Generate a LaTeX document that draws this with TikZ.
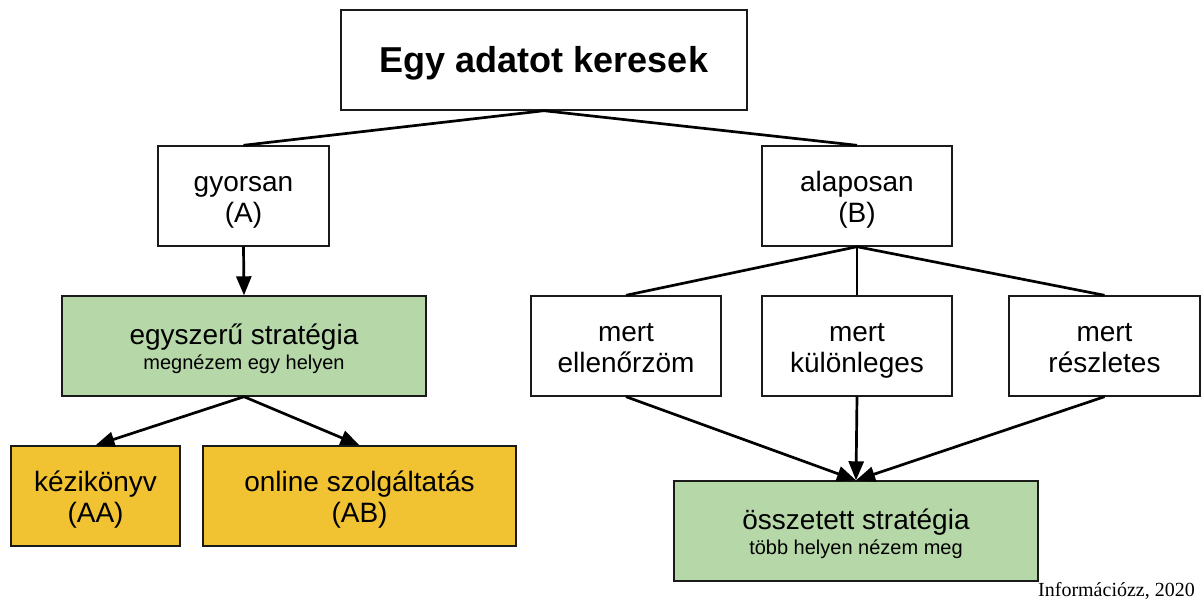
\documentclass[tikz,border=0pt]{standalone}
\usepackage{fontspec}
\setmainfont{Liberation Sans}
\newfontfamily\creditfont{Liberation Serif}
\usetikzlibrary{arrows.meta}

\definecolor{boxgreen}{HTML}{B6D7A8}
\definecolor{boxyellow}{HTML}{F1C232}
\definecolor{edge}{HTML}{1A1A1A}

% struts that fix the baselines of the two-line labels
\newcommand\Tstrut{\rule{0pt}{29pt}}
\newcommand\Gstrut{\rule{0pt}{30pt}}
\newcommand\Bstrut{\rule[-8pt]{0pt}{8pt}}

\begin{document}
\begin{tikzpicture}[x=1pt,y=-1pt,
  box/.style={draw=edge, line width=1.4pt, inner sep=0pt, align=center,
    text=black, minimum height=100pt, font=\fontsize{28}{31}\selectfont},
  plainbox/.style={box, fill=white},
  greenbox/.style={box, fill=boxgreen, font=\fontsize{28}{25}\selectfont},
  yellowbox/.style={box, fill=boxyellow},
  link/.style={line width=2.7pt, draw=black},
  arrow/.style={link, -{Triangle[length=19pt,width=15pt]}},
  subline/.style={}
]
\fill[white] (0,0) rectangle (1203,600);
\useasboundingbox (0,0) rectangle (1203,600);

% title
\node[plainbox, minimum width=406pt, text height=26pt, text depth=2pt,
  font=\bfseries\fontsize{36}{40}\selectfont] (top) at (544,60) {Egy adatot keresek};

% first level
\node[plainbox, minimum width=171pt] (gy) at (243.5,196) {\Tstrut gyorsan\\(A)\Bstrut};
\node[plainbox, minimum width=190pt] (al) at (857,196) {\Tstrut alaposan\\(B)\Bstrut};

% simple strategy branch
\node[greenbox, minimum width=364pt] (simple) at (244,346)
  {\Gstrut egyszerű stratégia\\{\fontsize{20}{25}\selectfont megnézem egy helyen}\Bstrut};
\node[yellowbox, minimum width=169pt] (aa) at (95.5,496) {\Tstrut kézikönyv\\(AA)\Bstrut};
\node[yellowbox, minimum width=313pt] (ab) at (359.5,496) {\Tstrut online szolgáltatás\\(AB)\Bstrut};

% thorough branch
\node[plainbox, minimum width=190pt] (m1) at (626,346) {\Tstrut mert\\ellenőrzöm\Bstrut};
\node[plainbox, minimum width=190pt] (m2) at (857,346) {\Tstrut mert\\különleges\Bstrut};
\node[plainbox, minimum width=191pt] (m3) at (1104.5,346) {\Tstrut mert\\részletes\Bstrut};
\node[greenbox, minimum width=364pt] (comp) at (856,531)
  {\Gstrut összetett stratégia\\{\fontsize{20}{25}\selectfont több helyen nézem meg}\Bstrut};

% connectors
\draw[link] (top.south) -- (gy.north);
\draw[link] (top.south) -- (al.north);
\draw[arrow] (gy.south) -- (simple.north);
\draw[arrow] (simple.south) -- (aa.north);
\draw[arrow] (simple.south) -- (ab.north);
\draw[link] (al.south) -- (m1.north);
\draw[link] (al.south) -- (m2.north);
\draw[link] (al.south) -- (m3.north);
\draw[arrow] (m1.south) -- (comp.north);
\draw[arrow] (m2.south) -- (comp.north);
\draw[arrow] (m3.south) -- (comp.north);

% credit line
\node[anchor=base east, inner sep=0pt, font=\creditfont\fontsize{20}{24}\selectfont]
  (credit) at (1195,596) {Információzz, 2020};
\end{tikzpicture}
\end{document}
